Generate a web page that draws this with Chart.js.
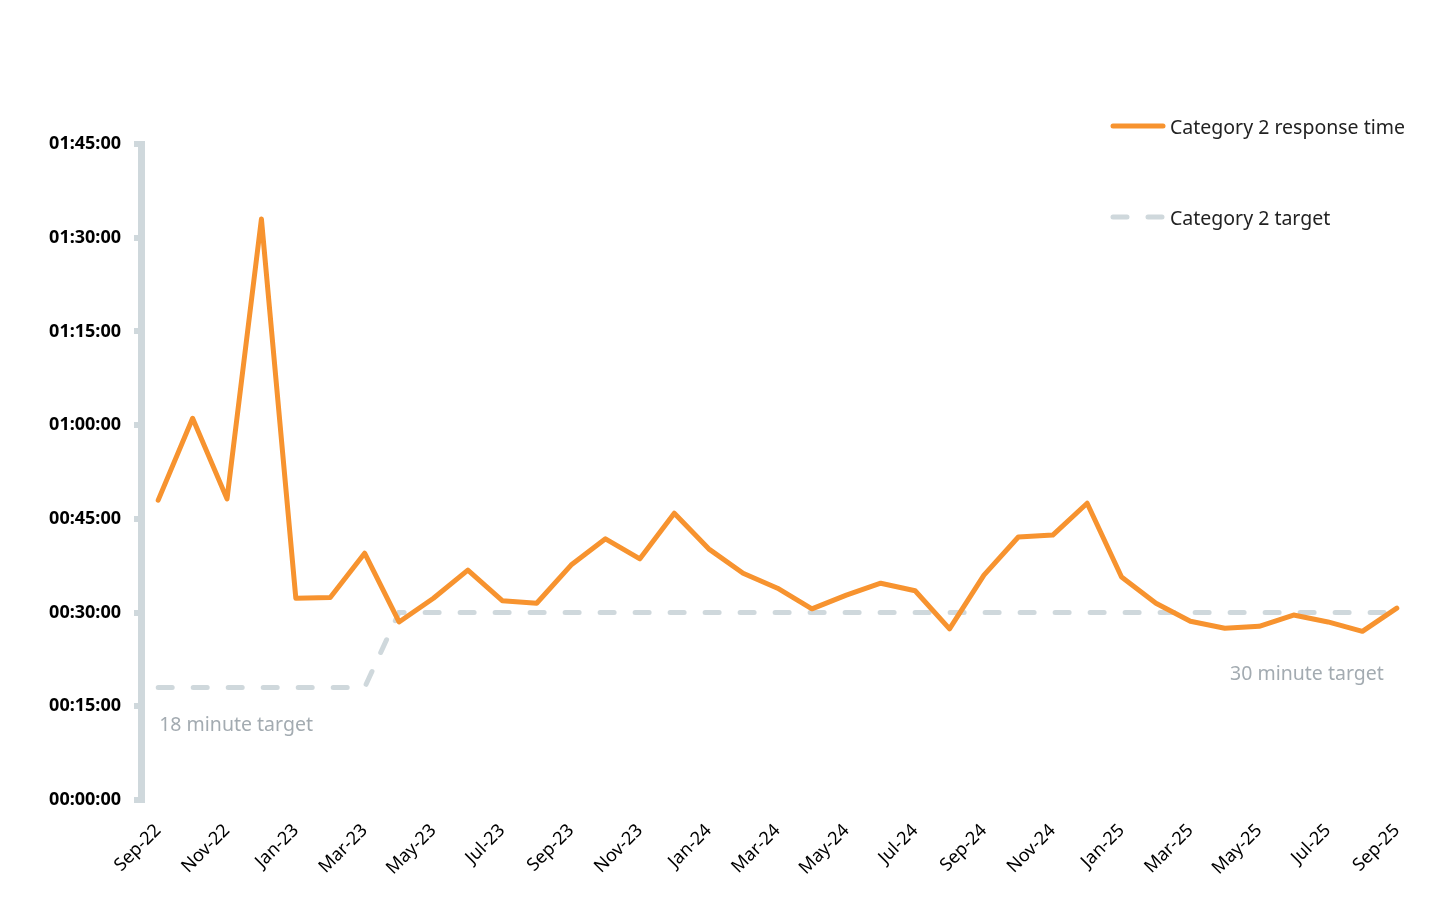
<!DOCTYPE html>
<html>
<head>
<meta charset="utf-8">
<script src="https://cdn.jsdelivr.net/npm/chart.js@4"></script>
<style>
  html, body { margin: 0; padding: 0; background: #fff; }
  #wrap { position: relative; width: 1456px; height: 906px; }
  #legend { position: absolute; left: 1110px; top: 110px; font-family: "Noto Sans", sans-serif; font-size: 19.5px; color: #222; }
  #legend .item { display: flex; align-items: center; height: 32px; margin-bottom: 59px; }
  #legend svg { margin-right: 4px; }
</style>
</head>
<body>
<div id="wrap">
  <canvas id="myChart" width="1456" height="906"></canvas>
  <div id="legend"></div>
</div>
<script>
// months Sep-22 .. Sep-25
const months = ['Sep-22','Oct-22','Nov-22','Dec-22','Jan-23','Feb-23','Mar-23','Apr-23','May-23','Jun-23','Jul-23','Aug-23',
  'Sep-23','Oct-23','Nov-23','Dec-23','Jan-24','Feb-24','Mar-24','Apr-24','May-24','Jun-24','Jul-24','Aug-24',
  'Sep-24','Oct-24','Nov-24','Dec-24','Jan-25','Feb-25','Mar-25','Apr-25','May-25','Jun-25','Jul-25','Aug-25','Sep-25'];

// response time in minutes
const responseMins = [48.0, 61.1, 48.2, 93.0, 32.3, 32.4, 39.5, 28.5, 32.3, 36.8, 31.9, 31.5,
  37.6, 41.8, 38.6, 45.9, 40.2, 36.3, 33.9, 30.6, 32.8, 34.7, 33.5, 27.4,
  36.0, 42.1, 42.4, 47.5, 35.7, 31.5, 28.6, 27.5, 27.8, 29.6, 28.5, 27.0, 30.7];

// target in minutes (18 until Mar-23, then 30)
const targetMins = [18, 18, 18, 18, 18, 18, 18, 30, 30, 30, 30, 30,
  30, 30, 30, 30, 30, 30, 30, 30, 30, 30, 30, 30,
  30, 30, 30, 30, 30, 30, 30, 30, 30, 30, 30, 30, 30];

const yTicks = [0, 15, 30, 45, 60, 75, 90, 105];
const targetNotes = [
  { text: '18 minute target', index: 0, value: 18, align: 'left' },
  { text: '30 minute target', index: 36, value: 30, align: 'right' }
];

const orange = '#f7932f';
const grey = '#cfd8dc';

function fmt(mins) {
  const s = Math.round(mins * 60);
  const p = n => String(n).padStart(2, '0');
  return p(Math.floor(s / 3600)) + ':' + p(Math.floor(s / 60) % 60) + ':' + p(s % 60);
}

// labels under the target line
const notePlugin = {
  id: 'notes',
  afterDatasetsDraw(chart) {
    const c = chart.ctx;
    const x = chart.scales.x, y = chart.scales.y;
    c.save();
    c.font = '19.5px "Noto Sans", sans-serif';
    c.fillStyle = '#a3abb1';
    c.textBaseline = 'middle';
    targetNotes.forEach(n => {
      c.textAlign = n.align;
      const px = x.getPixelForValue(n.index) + (n.align === 'left' ? 1 : -13);
      const py = y.getPixelForValue(n.value) + (n.value < 20 ? 38 : 62);
      c.fillText(n.text, px, py);
    });
    c.restore();
  }
};

const ctx = document.getElementById('myChart');

const chart = new Chart(ctx, {
  type: 'line',
  data: {
    labels: months,
    datasets: [{
      label: 'Category 2 response time',
      data: responseMins,
      borderColor: orange,
      borderWidth: 5,
      pointRadius: 0,
      tension: 0,
      borderJoinStyle: 'round',
      borderCapStyle: 'round'
    }, {
      label: 'Category 2 target',
      data: targetMins,
      borderColor: grey,
      borderWidth: 5,
      borderDash: [14, 21],
      borderCapStyle: 'round',
      pointRadius: 0,
      tension: 0
    }]
  },
  options: {
    responsive: false,
    animation: false,
    layout: { padding: { top: 144, right: 42, bottom: 0, left: 0 } },
    plugins: {
      legend: { display: false },
      tooltip: { enabled: false }
    },
    scales: {
      x: {
        offset: true,
        grid: { display: false },
        border: { display: false },
        ticks: {
          autoSkip: false,
          maxRotation: 45,
          minRotation: 45,
          padding: 12,
          color: '#000',
          font: { family: 'Noto Sans', size: 18 },
          callback: (v, i) => (i % 2 === 0 ? months[i] : '')
        },
        afterFit: s => { s.height = 106; }
      },
      y: {
        min: 0,
        max: 105,
        afterBuildTicks: s => { s.ticks = yTicks.map(v => ({ value: v })); },
        grid: { drawOnChartArea: false, drawTicks: true, tickLength: 7, color: grey, lineWidth: 6 },
        border: { display: true, color: grey, width: 7 },
        ticks: {
          padding: 13,
          color: '#000',
          font: { family: 'Noto Sans', size: 18, weight: 'bold' },
          callback: v => fmt(v)
        },
        afterFit: s => { s.width = 141; }
      }
    }
  },
  plugins: [notePlugin]
});

// html legend from the datasets
const leg = document.getElementById('legend');
chart.data.datasets.forEach(ds => {
  const d = document.createElement('div');
  d.className = 'item';
  const dash = ds.borderDash ? 'stroke-dasharray="14 21"' : '';
  d.innerHTML = '<svg width="56" height="10"><line x1="3" y1="5" x2="53" y2="5" stroke="' + ds.borderColor +
    '" stroke-width="5" stroke-linecap="round" ' + dash + '/></svg><span>' + ds.label + '</span>';
  leg.appendChild(d);
});
</script>
</body>
</html>
